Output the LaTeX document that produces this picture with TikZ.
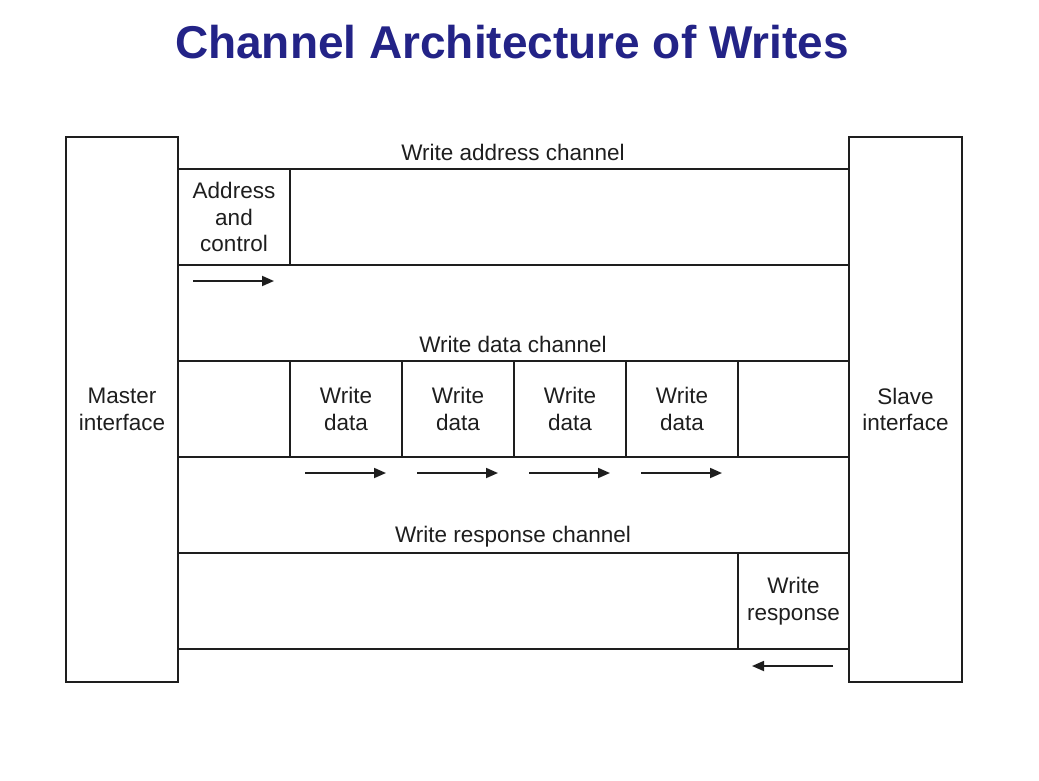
\documentclass[tikz,border=0pt]{standalone}
\usepackage{fontspec}
\setmainfont{Liberation Sans}
\usetikzlibrary{arrows.meta}
\definecolor{titleblue}{RGB}{35,35,135}
\definecolor{ink}{RGB}{30,30,30}
\begin{document}
\begin{tikzpicture}[x=1pt,y=-1pt,
  box/.style={draw=ink,line width=2.6pt,inner sep=0pt,anchor=center,
    font=\fontsize{22.5}{26.5}\selectfont,align=center,text=ink},
  lbl/.style={inner sep=0pt,font=\fontsize{22.5}{26.5}\selectfont,text=ink},
  flow/.style={draw=ink,line width=1.8pt,-{Triangle[length=12pt,width=10pt]}}]
\useasboundingbox (0,0) rectangle (1039,780);
\node[font=\fontsize{46}{50}\selectfont\bfseries,text=titleblue,inner sep=0pt] (title) at (512,42) {Channel Architecture of Writes};
% rows
\node[box,minimum width=671pt,minimum height=96pt] (arow) at (513.5,217) {};
\node[box,minimum width=671pt,minimum height=96pt] (drow) at (513.5,409) {};
\node[box,minimum width=671pt,minimum height=96pt] (rrow) at (513.5,601) {};
% interfaces
\node[box,line width=2.2pt,minimum width=112pt,minimum height=545pt] (master) at (122,409.5) {Master\\interface};
\node[box,line width=2.2pt,minimum width=113pt,minimum height=545pt] (slave) at (905.5,409.5) {Slave\\interface};
% channel labels
\node[lbl] (alab) at (513,152) {Write address channel};
\node[lbl] (dlab) at (513,344) {Write data channel};
\node[lbl] (rlab) at (513,537) {Write response channel};
% address
\node[box,minimum width=112pt,minimum height=96pt] (addr) at (234,217) {Address\\and\\control};
% data
\node[box,minimum width=112pt,minimum height=96pt] (d0) at (234,409) {};
\node[box,minimum width=112pt,minimum height=96pt] (d1) at (346,409) {Write\\data};
\node[box,minimum width=112pt,minimum height=96pt] (d2) at (458,409) {Write\\data};
\node[box,minimum width=112pt,minimum height=96pt] (d3) at (570,409) {Write\\data};
\node[box,minimum width=112pt,minimum height=96pt] (d4) at (682,409) {Write\\data};
% response
\node[box,minimum width=111pt,minimum height=96pt] (resp) at (793.5,601) {Write\\response};
% arrows
\coordinate (a1) at (193,281); \coordinate (a2) at (274,281);
\draw[flow] (a1) -- (a2);
\coordinate (b1) at (305,473); \coordinate (b2) at (386,473);
\coordinate (c1) at (417,473); \coordinate (c2) at (498,473);
\coordinate (e1) at (529,473); \coordinate (e2) at (610,473);
\coordinate (f1) at (641,473); \coordinate (f2) at (722,473);
\draw[flow] (b1) -- (b2);
\draw[flow] (c1) -- (c2);
\draw[flow] (e1) -- (e2);
\draw[flow] (f1) -- (f2);
\coordinate (g1) at (833,666); \coordinate (g2) at (752,666);
\draw[flow] (g1) -- (g2);
\end{tikzpicture}
\end{document}
